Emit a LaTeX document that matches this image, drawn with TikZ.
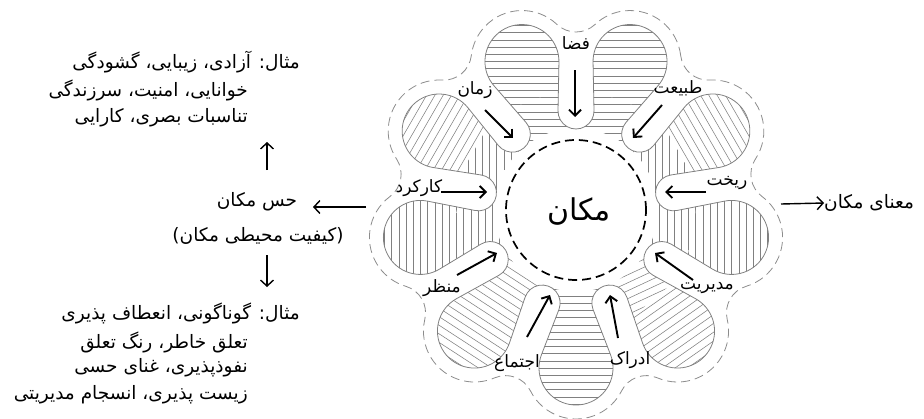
\documentclass[tikz,border=0pt]{standalone}
\usepackage{fontspec}
\usetikzlibrary{arrows.meta,calc}
\newfontfamily\fa[Script=Arabic]{DejaVu Sans}
\TeXXeTstate=1
\newcommand\rl[1]{\beginR #1\endR}
\definecolor{hatchgray}{gray}{0.5}
\definecolor{linegray}{gray}{0.5}
\definecolor{dashgray}{gray}{0.55}
\tikzset{
  hatchline/.style={draw=hatchgray,line width=0.55pt},
  lobeline/.style={draw=linegray,line width=0.8pt},
  outerdash/.style={draw=dashgray,line width=0.8pt,dash pattern=on 9pt off 5pt},
  innerdash/.style={draw=black,line width=1.7pt,dash pattern=on 9pt off 5pt},
  arr/.style={line width=1.9pt,-{Straight Barb[length=6pt,width=12pt]}},
  sidearr/.style={line width=1.4pt,-{Straight Barb[length=6pt,width=13pt]}},
  lbl/.style={font=\fa\fontsize{17}{20}\selectfont,inner sep=0pt},
  txt/.style={font=\fa\fontsize{18.5}{22}\selectfont,inner sep=0pt},
  centertxt/.style={font=\fa\fontsize{30}{34}\selectfont,inner sep=0pt}
}
\newcommand\hatchset[1]{%
  \begin{scope}[shift={(158,0)},rotate=#1]
    \foreach \i in {-15,...,15} \draw[hatchline] (-115,\i*7.2) -- (115,\i*7.2);
  \end{scope}}
\newcommand\flowerlobe[3]{%
  \begin{scope}[shift={(576,-210)},rotate=#1]
    \begin{scope}
      \clip (78.29,-23.54) arc[start angle=145,end angle=68.88,radius=18]
        -- (144.67,-34.51) arc[start angle=-111.12,end angle=111.12,radius=37]
        -- (99.52,17.07) arc[start angle=-68.88,end angle=-145,radius=18]
        arc[start angle=16.74,end angle=-16.74,radius=81.75] -- cycle;
      \begin{scope}
        \clip (60,-120) rectangle (118,120);
        \hatchset{#2-#1}
      \end{scope}
      \begin{scope}
        \clip (118,-120) rectangle (260,120);
        \hatchset{#3-#1}
      \end{scope}
    \end{scope}
    \draw[lobeline] (76.12,-27.70) arc[start angle=160,end angle=68.88,radius=18]
      -- (144.67,-34.51) arc[start angle=-111.12,end angle=111.12,radius=37]
      -- (99.52,17.07) arc[start angle=-68.88,end angle=-160,radius=18];
  \end{scope}}
\begin{document}
\begin{tikzpicture}[x=1pt,y=1pt]
\useasboundingbox (0,0) rectangle (924,-418);
\clip (0,0) rectangle (924,-418);
\coordinate (C) at (576,-210);
% lobes
\flowerlobe{70}{0}{0}
\flowerlobe{30}{90}{-60}
\flowerlobe{-10}{90}{90}
\flowerlobe{-50}{25}{35}
\flowerlobe{-90}{0}{0}
\flowerlobe{-130}{-33}{-33}
\flowerlobe{-170}{90}{90}
\flowerlobe{150}{90}{60}
\flowerlobe{110}{0}{0}
% outer dashed boundary
\draw[outerdash] ($(C)+(70:158)+(6.67:51)$)
  \foreach \k in {0,...,8}{
    arc[start angle={70+40*\k-63.33},end angle={70+40*\k+63.33},radius=51]
    arc[start angle={70+40*\k+243.33},end angle={70+40*\k+156.67},radius=27.75]
  } -- cycle;
% inner dashed circle
\draw[innerdash] (C) circle[radius=70];
\node[centertxt] (makan) at (579,-212) {\rl{مکان}};
% flower labels and arrows
\node[lbl] (faza) at (576,-43) {\rl{فضا}};
\coordinate (faza1) at (575,-70); \coordinate (faza2) at (575,-117);
\draw[arr] (faza1) -- (faza2);
\node[lbl] (tabiat) at (678,-88) {\rl{طبیعت}};
\coordinate (tabiat1) at (662,-105); \coordinate (tabiat2) at (633,-138);
\draw[arr] (tabiat1) -- (tabiat2);
\node[lbl] (rikht) at (727,-183) {\rl{ریخت}};
\coordinate (rikht1) at (706,-192); \coordinate (rikht2) at (665,-192);
\draw[arr] (rikht1) -- (rikht2);
\node[lbl] (modiriat) at (707,-288) {\rl{مدیریت}};
\coordinate (modiriat1) at (693,-280); \coordinate (modiriat2) at (655,-253);
\draw[arr] (modiriat1) -- (modiriat2);
\node[lbl] (edrak) at (630,-360) {\rl{ادراک}};
\coordinate (edrak1) at (618,-338); \coordinate (edrak2) at (610,-295);
\draw[arr] (edrak1) -- (edrak2);
\node[lbl] (ejtema) at (517,-363) {\rl{اجتماع}};
\coordinate (ejtema1) at (527,-337); \coordinate (ejtema2) at (550,-295);
\draw[arr] (ejtema1) -- (ejtema2);
\node[lbl] (manzar) at (442,-288) {\rl{منظر}};
\coordinate (manzar1) at (457,-275); \coordinate (manzar2) at (497,-253);
\draw[arr] (manzar1) -- (manzar2);
\node[lbl] (karkard) at (419,-188) {\rl{کارکرد}};
\coordinate (karkard1) at (441,-192); \coordinate (karkard2) at (487,-192);
\draw[arr] (karkard1) -- (karkard2);
\node[lbl] (zaman) at (475,-90) {\rl{زمان}};
\coordinate (zaman1) at (485,-110); \coordinate (zaman2) at (513,-138);
\draw[arr] (zaman1) -- (zaman2);
% right side
\node[txt,anchor=west] (mana) at (824,-203) {\rl{معنای مکان}};
\coordinate (right1) at (781,-204);
\draw[sidearr] (right1) -- (mana.west);
% left side
\node[txt] (hess) at (257,-202) {\rl{حس مکان}};
\node[txt] (keyfiat) at (258,-236) {\rl{(کیفیت محیطی مکان)}};
\coordinate (left1) at (366,-207); \coordinate (left2) at (313,-207);
\draw[sidearr] (left1) -- (left2);
\coordinate (up1) at (267,-170); \coordinate (up2) at (267,-142);
\draw[sidearr] (up1) -- (up2);
\coordinate (dn1) at (267,-255); \coordinate (dn2) at (267,-287);
\draw[sidearr] (dn1) -- (dn2);
% top example block
\node[txt,anchor=east] (ta) at (300,-62) {\rl{مثال: آزادی، زیبایی، گشودگی}};
\node[txt,anchor=east] (tb) at (248,-90) {\rl{خوانایی، امنیت، سرزندگی}};
\node[txt,anchor=east] (tc) at (248,-118) {\rl{تناسبات بصری، کارایی}};
% bottom example block
\node[txt,anchor=east] (ba) at (300,-313) {\rl{مثال: گوناگونی، انعطاف پذیری}};
\node[txt,anchor=east] (bb) at (248,-342) {\rl{تعلق خاطر، رنگ تعلق}};
\node[txt,anchor=east] (bc) at (248,-368) {\rl{نفوذپذیری، غنای حسی}};
\node[txt,anchor=east] (bd) at (248,-395) {\rl{زیست پذیری، انسجام مدیریتی}};
\end{tikzpicture}
\end{document}
